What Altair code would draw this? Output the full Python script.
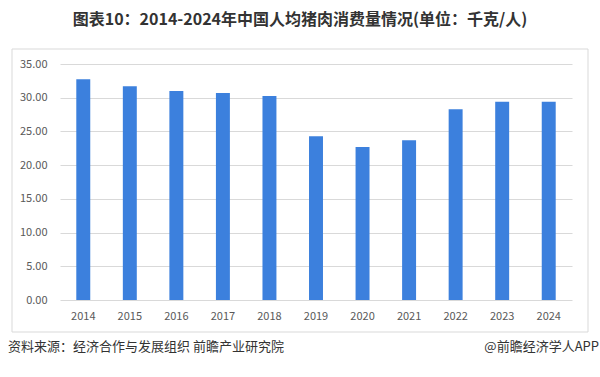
import altair as alt
import pandas as pd

years = ["2014", "2015", "2016", "2017", "2018", "2019", "2020", "2021", "2022", "2023", "2024"]
values = [32.75, 31.7, 31.0, 30.7, 30.25, 24.3, 22.7, 23.7, 28.3, 29.4, 29.4]
y_ticks = [0, 5, 10, 15, 20, 25, 30, 35]

title_text = "图表10：2014-2024年中国人均猪肉消费量情况(单位：千克/人)"
source_text = "资料来源：经济合作与发展组织 前瞻产业研究院"
brand_text = "@前瞻经济学人APP"

df = pd.DataFrame({"year": years, "value": values})
FONT = "Noto Sans CJK SC"

base = alt.Chart(df)

bars = base.mark_bar(color="#3C80DD").encode(
    x=alt.X("year:N", sort=years,
            scale=alt.Scale(paddingInner=0.7, paddingOuter=0.35),
            axis=alt.Axis(title=None, labelAngle=0, domain=False, ticks=False,
                          labelPadding=10, labelFontSize=11, labelColor="#595959",
                          labelFont=FONT)),
    y=alt.Y("value:Q", scale=alt.Scale(domain=[0, 35], nice=False),
            axis=alt.Axis(title=None, values=y_ticks, format=".2f", domain=False,
                          ticks=False, labelPadding=13, labelFontSize=11,
                          labelColor="#595959", labelFont=FONT,
                          grid=True, gridColor="#D9D9D9", gridWidth=1)),
)

one = pd.DataFrame({"a": [0]})

frame = alt.Chart(one).mark_rect(fill=None, stroke="#D9D9D9", strokeWidth=1).encode(
    x=alt.value(-48), x2=alt.value(528), y=alt.value(-15), y2=alt.value(268)
)

title = alt.Chart(one).mark_text(
    text=title_text, font=FONT, fontSize=16, fontWeight="bold", color="#333333",
    align="center", baseline="middle"
).encode(x=alt.value(240), y=alt.value(-44))

source = alt.Chart(one).mark_text(
    text=source_text, font=FONT, fontSize=13, color="#333333",
    align="left", baseline="middle"
).encode(x=alt.value(-52), y=alt.value(283))

brand = alt.Chart(one).mark_text(
    text=brand_text, font=FONT, fontSize=13, color="#333333",
    align="right", baseline="middle"
).encode(x=alt.value(539), y=alt.value(283))

chart = alt.layer(frame, bars, title, source, brand).properties(
    width=512, height=236,
    autosize=alt.AutoSizeParams(type="none"),
    padding={"left": 60, "top": 64, "right": 28, "bottom": 77},
    background="white",
).configure_view(stroke=None)

chart.save("out.html", embed_options={"renderer": "svg", "actions": False})
